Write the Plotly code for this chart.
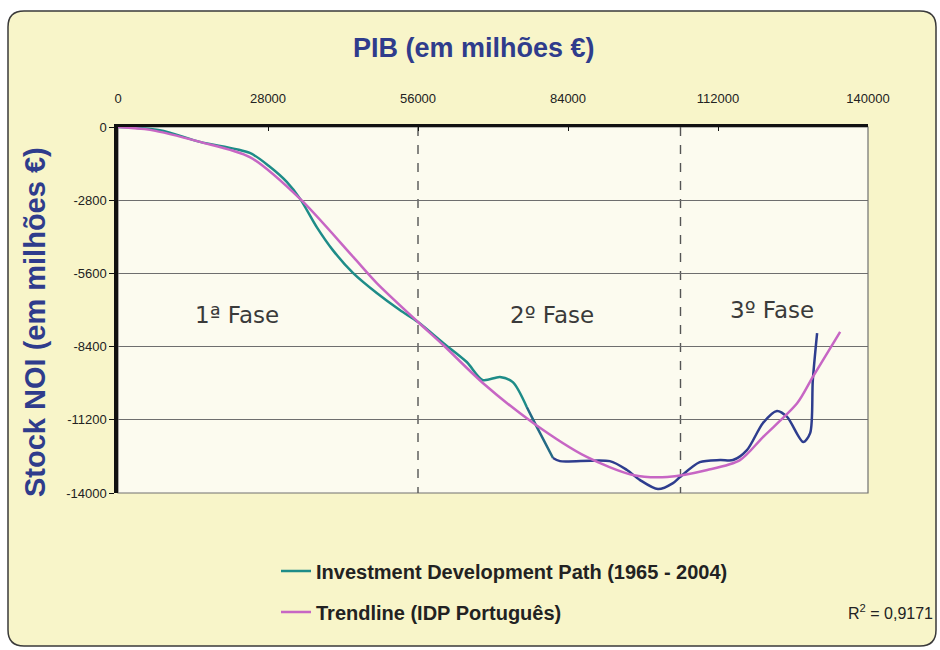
import plotly.graph_objects as go

# ---- data (millions of euro) ----
idp_x = [0, 7800, 15300, 24600, 28400, 31500, 34000, 37100, 40100, 43900, 48300, 52600,
         56000, 60700, 65100, 68100, 71300, 73700, 76300, 78200, 81200, 82500, 91800,
         95000, 97400, 100800, 103600, 104900, 108600, 112400, 114800, 117400, 120400,
         123000, 124900, 127900, 129200, 129700, 130500]
idp_y = [0, -120, -570, -990, -1530, -2100, -2750, -3830, -4710, -5590, -6350, -7000,
         -7460, -8260, -8990, -9680, -9560, -9760, -10710, -11480, -12660, -12780, -12780,
         -13120, -13500, -13850, -13620, -13390, -12820, -12740, -12740, -12360, -11320,
         -10860, -11090, -12050, -11710, -9680, -7880]

trend_x = [0, 6000, 15300, 24600, 34000, 43900, 48300, 56000, 60700, 68100, 77500, 87500,
           96100, 102500, 110000, 116100, 120400, 126800, 129700, 134800]
trend_y = [0, -110, -570, -1150, -2750, -4970, -5970, -7460, -8340, -9790, -11320, -12620,
           -13310, -13390, -13120, -12740, -11860, -10560, -9560, -7840]

x_ticks = [0, 28000, 56000, 84000, 112000, 140000]
y_ticks = [0, -2800, -5600, -8400, -11200, -14000]
y_ticktext = ["0", "-2800", "-5600", "-8400", "-11200", "-14000"]

phase_bounds = [56000, 105000]
phase_labels = ["1ª Fase", "2º Fase", "3º Fase"]
phase_label_x = [22300, 81000, 122100]
phase_label_y = [-7200, -7200, -7000]

# ---- layout geometry ----
W, H = 940, 650
L, R, T, B = 118, 72, 127, 157
PW, PH = W - L - R, H - T - B


def px(xp):
    return (xp - L) / PW


def py(yp):
    return (H - B - yp) / PH


TEAL = "#1E8C88"
MID = "#246A85"
NAVY = "#2E3D8E"
PINK = "#C766C4"
TXT_BLUE = "#2F3C8C"

fig = go.Figure()

# IDP line in three colour segments (teal -> navy)
i1 = idp_x.index(76300)
i2 = idp_x.index(81200)
segments = [(0, i1 + 1, TEAL, True), (i1, i2 + 1, MID, False), (i2, len(idp_x), NAVY, False)]
for a, b, col, show in segments:
    fig.add_trace(go.Scatter(
        x=idp_x[a:b], y=idp_y[a:b], mode="lines",
        line=dict(color=col, width=2.5, shape="spline", smoothing=0.8),
        name="Investment Development Path (1965 - 2004)",
        showlegend=show, legend="legend", hoverinfo="skip"))

fig.add_trace(go.Scatter(
    x=trend_x, y=trend_y, mode="lines",
    line=dict(color=PINK, width=2.5, shape="spline", smoothing=0.8),
    name="Trendline (IDP Português)", legend="legend2", hoverinfo="skip"))

# background shapes
x0, x1, y0, y1 = 8, 936, 11, 646
r = 16
path = (f"M {px(x0 + r)} {py(y0)} L {px(x1 - r)} {py(y0)} "
        f"Q {px(x1)} {py(y0)} {px(x1)} {py(y0 + r)} L {px(x1)} {py(y1 - r)} "
        f"Q {px(x1)} {py(y1)} {px(x1 - r)} {py(y1)} L {px(x0 + r)} {py(y1)} "
        f"Q {px(x0)} {py(y1)} {px(x0)} {py(y1 - r)} L {px(x0)} {py(y0 + r)} "
        f"Q {px(x0)} {py(y0)} {px(x0 + r)} {py(y0)} Z")
shapes = [
    dict(type="path", xref="paper", yref="paper", path=path,
         fillcolor="#F8F5C9", line=dict(color="#3A3A3A", width=1.5), layer="below"),
    dict(type="rect", xref="paper", yref="paper", x0=0, x1=1, y0=0, y1=1,
         fillcolor="#FCFBEF", line=dict(color="#707070", width=1.2), layer="below"),
]
for xb in phase_bounds:
    shapes.append(dict(type="line", xref="x", yref="y", x0=xb, x1=xb,
                       y0=y_ticks[0], y1=y_ticks[-1],
                       line=dict(color="#555555", width=1.4, dash="dash"), layer="below"))

annotations = [
    dict(text="<b>PIB (em milhões €)</b>", xref="paper", yref="paper",
         x=px(474), y=py(48), xanchor="center", yanchor="middle", showarrow=False,
         font=dict(family="Liberation Sans, Arial", size=27, color=TXT_BLUE)),
    dict(text="<b>Stock NOI (em milhões €)</b>", xref="paper", yref="paper",
         x=px(35), y=py(322), xanchor="center", yanchor="middle", showarrow=False,
         textangle=-90,
         font=dict(family="Liberation Sans, Arial", size=29, color=TXT_BLUE)),
    dict(text="R<sup>2</sup> = 0,9171", xref="paper", yref="paper",
         x=px(935), y=py(612), xanchor="right", yanchor="middle", showarrow=False,
         font=dict(family="Liberation Sans, Arial", size=16, color="#222222")),
]
for lab, lx, ly in zip(phase_labels, phase_label_x, phase_label_y):
    annotations.append(dict(text=lab, x=lx, y=ly, xref="x", yref="y",
                            showarrow=False,
                            font=dict(family="DejaVu Sans", size=23, color="#3A3A3A")))

legend_font = dict(family="Liberation Sans, Arial", size=20, color="#222222", weight="bold")
fig.update_layout(
    width=W, height=H,
    margin=dict(l=L, r=R, t=T, b=B),
    paper_bgcolor="white",
    plot_bgcolor="rgba(0,0,0,0)",
    shapes=shapes,
    annotations=annotations,
    legend=dict(x=px(276), y=py(571), xanchor="left", yanchor="middle",
                bgcolor="rgba(0,0,0,0)", font=legend_font, itemwidth=30),
    legend2=dict(x=px(276), y=py(612), xanchor="left", yanchor="middle",
                 bgcolor="rgba(0,0,0,0)", font=legend_font, itemwidth=30),
    xaxis=dict(side="top", range=[0, 140000], tickvals=x_ticks, tickformat="d",
               showgrid=False, zeroline=False, showline=True, linecolor="#111111",
               linewidth=3, ticks="inside", ticklen=4, tickcolor="#111111",
               ticklabelstandoff=16,
               tickfont=dict(family="Liberation Sans, Arial", size=13, color="#222222")),
    yaxis=dict(range=[-14000, 0], tickvals=y_ticks, ticktext=y_ticktext,
               showgrid=True, gridcolor="#6E6E6E", gridwidth=1, zeroline=False,
               showline=True, linecolor="#111111", linewidth=3.5, ticks="outside",
               ticklen=5, tickcolor="#111111",
               tickfont=dict(family="Liberation Sans, Arial", size=13, color="#222222")),
)

fig.write_html("out.html", config={"displayModeBar": False},
               post_script="document.body.style.margin='0';document.body.style.overflow='hidden';")
